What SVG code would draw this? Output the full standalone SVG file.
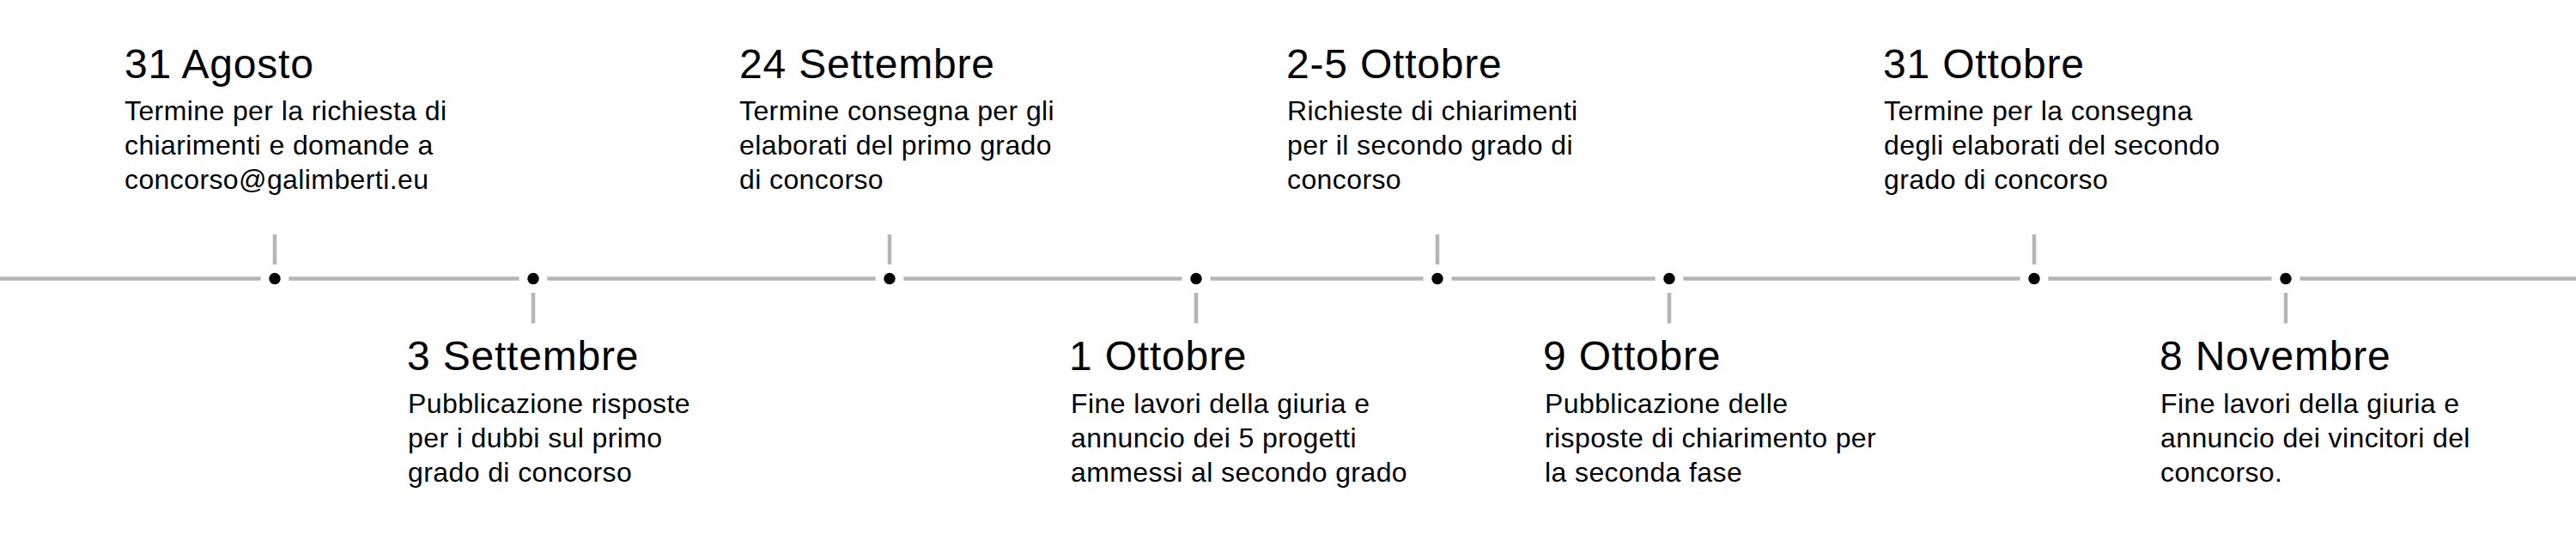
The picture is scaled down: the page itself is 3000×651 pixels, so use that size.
<svg xmlns="http://www.w3.org/2000/svg" width="3000" height="651" viewBox="0 0 3000 651">
<style>
.axis{stroke:#b5b5b5;stroke-width:4.5;fill:none}
.tick{stroke:#b5b5b5;stroke-width:4.5}
.halo{fill:#ffffff}
.dot{fill:#000000}
.title{font-family:"Liberation Sans",Arial,sans-serif;font-size:48px;letter-spacing:0.8px;fill:#000}
.body{font-family:"Liberation Sans",Arial,sans-serif;font-size:32px;letter-spacing:0.4px;fill:#000}
</style>
<rect width="3000" height="651" fill="#ffffff"/>
<g id="connectors">
<line class="axis" x1="0" y1="324.5" x2="3000" y2="324.5"/>
<line class="tick" x1="320" y1="273" x2="320" y2="308"/>
<line class="tick" x1="621" y1="341" x2="621" y2="376.5"/>
<line class="tick" x1="1036" y1="273" x2="1036" y2="308"/>
<line class="tick" x1="1393" y1="341" x2="1393" y2="376.5"/>
<line class="tick" x1="1674" y1="273" x2="1674" y2="308"/>
<line class="tick" x1="1944" y1="341" x2="1944" y2="376.5"/>
<line class="tick" x1="2369" y1="273" x2="2369" y2="308"/>
<line class="tick" x1="2662" y1="341" x2="2662" y2="376.5"/>
</g>
<g id="n1">
<circle class="halo" cx="320" cy="324.5" r="16.5"/><circle class="dot" cx="320" cy="324.5" r="6.7"/>
<text class="title" x="145" y="90.5">31 Agosto</text>
<text class="body" x="145" y="140">Termine per la richiesta di</text>
<text class="body" x="145" y="180">chiarimenti e domande a</text>
<text class="body" x="145" y="220">concorso@galimberti.eu</text>
</g>
<g id="n2">
<circle class="halo" cx="621" cy="324.5" r="16.5"/><circle class="dot" cx="621" cy="324.5" r="6.7"/>
<text class="title" x="474" y="431">3 Settembre</text>
<text class="body" x="475" y="481">Pubblicazione risposte</text>
<text class="body" x="475" y="521">per i dubbi sul primo</text>
<text class="body" x="475" y="561">grado di concorso</text>
</g>
<g id="n3">
<circle class="halo" cx="1036" cy="324.5" r="16.5"/><circle class="dot" cx="1036" cy="324.5" r="6.7"/>
<text class="title" x="861" y="90.5">24 Settembre</text>
<text class="body" x="861" y="140">Termine consegna per gli</text>
<text class="body" x="861" y="180">elaborati del primo grado</text>
<text class="body" x="861" y="220">di concorso</text>
</g>
<g id="n4">
<circle class="halo" cx="1393" cy="324.5" r="16.5"/><circle class="dot" cx="1393" cy="324.5" r="6.7"/>
<text class="title" x="1245" y="431">1 Ottobre</text>
<text class="body" x="1247" y="481">Fine lavori della giuria e</text>
<text class="body" x="1247" y="521">annuncio dei 5 progetti</text>
<text class="body" x="1247" y="561">ammessi al secondo grado</text>
</g>
<g id="n5">
<circle class="halo" cx="1674" cy="324.5" r="16.5"/><circle class="dot" cx="1674" cy="324.5" r="6.7"/>
<text class="title" x="1498" y="90.5">2-5 Ottobre</text>
<text class="body" x="1499" y="140">Richieste di chiarimenti</text>
<text class="body" x="1499" y="180">per il secondo grado di</text>
<text class="body" x="1499" y="220">concorso</text>
</g>
<g id="n6">
<circle class="halo" cx="1944" cy="324.5" r="16.5"/><circle class="dot" cx="1944" cy="324.5" r="6.7"/>
<text class="title" x="1797" y="431">9 Ottobre</text>
<text class="body" x="1799" y="481">Pubblicazione delle</text>
<text class="body" x="1799" y="521">risposte di chiarimento per</text>
<text class="body" x="1799" y="561">la seconda fase</text>
</g>
<g id="n7">
<circle class="halo" cx="2369" cy="324.5" r="16.5"/><circle class="dot" cx="2369" cy="324.5" r="6.7"/>
<text class="title" x="2193" y="90.5">31 Ottobre</text>
<text class="body" x="2194" y="140">Termine per la consegna</text>
<text class="body" x="2194" y="180">degli elaborati del secondo</text>
<text class="body" x="2194" y="220">grado di concorso</text>
</g>
<g id="n8">
<circle class="halo" cx="2662" cy="324.5" r="16.5"/><circle class="dot" cx="2662" cy="324.5" r="6.7"/>
<text class="title" x="2515" y="431">8 Novembre</text>
<text class="body" x="2516" y="481">Fine lavori della giuria e</text>
<text class="body" x="2516" y="521">annuncio dei vincitori del</text>
<text class="body" x="2516" y="561">concorso.</text>
</g>
</svg>
